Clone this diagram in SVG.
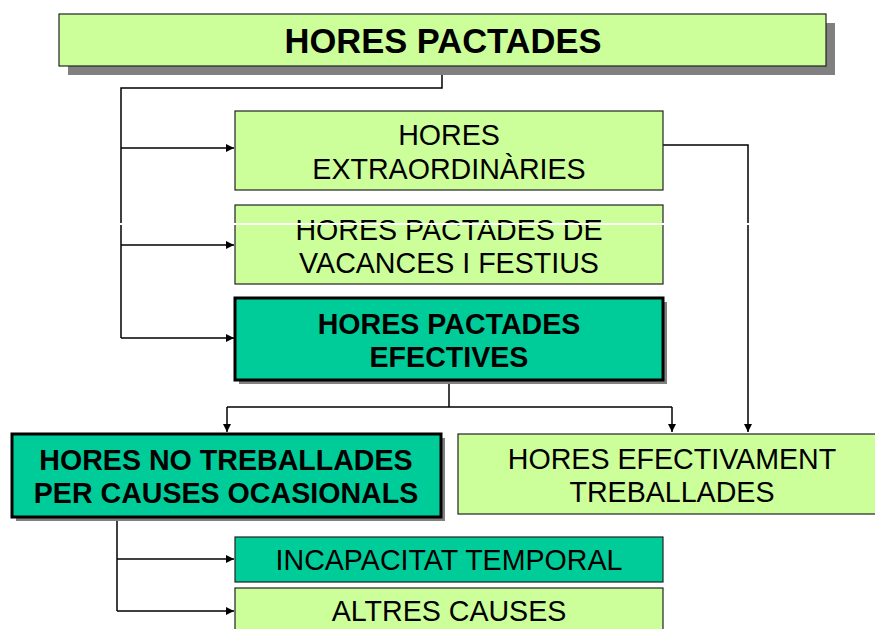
<svg xmlns="http://www.w3.org/2000/svg" width="875" height="629" viewBox="0 0 875 629">
<defs>
<marker id="arr" viewBox="0 0 10 10" refX="10" refY="5" markerWidth="8" markerHeight="8" markerUnits="userSpaceOnUse" orient="auto">
<path d="M0,0 L10,5 L0,10 Z" fill="#000"/>
</marker>
<style>
text{font-family:"Liberation Sans",Arial,sans-serif;font-size:28.6px;fill:#000;text-anchor:middle}
.b{font-weight:bold}
.lg{fill:#CCFF99;stroke:#222;stroke-width:1.2}
.tq{fill:#00CC99;stroke:#222;stroke-width:1.2}
.tqb{fill:#00CC99;stroke:#000;stroke-width:3}
.sh{fill:#808080}
.c{fill:none;stroke:#000;stroke-width:1.5}
</style>
</defs>
<rect width="875" height="629" fill="#fff"/>
<g id="connectors">
<path class="c" d="M442,66 V88 H121 V338"/>
<path class="c" d="M121,148 H234" marker-end="url(#arr)"/>
<path class="c" d="M121,245 H234" marker-end="url(#arr)"/>
<path class="c" d="M121,338 H234" marker-end="url(#arr)"/>
<path class="c" d="M663,145 H748 V432" marker-end="url(#arr)" stroke="#333"/>
<path class="c" d="M449,380 V407"/>
<path class="c" d="M227,407 H672"/>
<path class="c" d="M227,407 V432" marker-end="url(#arr)"/>
<path class="c" d="M672,407 V432" marker-end="url(#arr)"/>
<path class="c" d="M117,517 V611"/>
<path class="c" d="M117,559 H234" marker-end="url(#arr)"/>
<path class="c" d="M117,611 H234" marker-end="url(#arr)"/>
</g>
<g id="n-hores-pactades">
<rect class="sh" x="68" y="23" width="767" height="52"/>
<rect class="lg" x="59" y="14" width="767" height="52"/>
<text class="b" x="443" y="53" style="font-size:34.5px">HORES PACTADES</text>
</g>
<g id="n-extraordinaries">
<rect class="lg" x="235" y="111" width="428" height="79"/>
<text x="449" y="145">HORES</text>
<text x="449" y="179">EXTRAORDINÀRIES</text>
</g>
<g id="n-vacances">
<rect class="lg" x="235" y="205" width="428" height="79"/>
<text x="449" y="240">HORES PACTADES DE</text>
<text x="449" y="273">VACANCES I FESTIUS</text>
</g>
<g id="n-efectives">
<rect class="sh" x="239" y="302" width="428" height="82"/>
<rect class="tqb" x="235" y="298" width="428" height="82"/>
<text class="b" x="449" y="334">HORES PACTADES</text>
<text class="b" x="449" y="367">EFECTIVES</text>
</g>
<g id="n-no-treballades">
<rect class="sh" x="16" y="438" width="429" height="83"/>
<rect class="tqb" x="12" y="434" width="429" height="83"/>
<text class="b" x="226" y="470">HORES NO TREBALLADES</text>
<text class="b" x="226" y="503">PER CAUSES OCASIONALS</text>
</g>
<g id="n-efectivament">
<rect class="lg" x="458" y="434" width="428" height="80"/>
<text x="672" y="469">HORES EFECTIVAMENT</text>
<text x="672" y="502">TREBALLADES</text>
</g>
<g id="n-incapacitat">
<rect class="tq" x="235" y="537" width="428" height="45"/>
<text x="449" y="570">INCAPACITAT TEMPORAL</text>
</g>
<g id="n-altres">
<rect class="lg" x="235" y="588" width="428" height="50"/>
<text x="449" y="621">ALTRES CAUSES</text>
</g>
<rect x="100" y="223" width="652" height="2" fill="#fff"/>
</svg>
